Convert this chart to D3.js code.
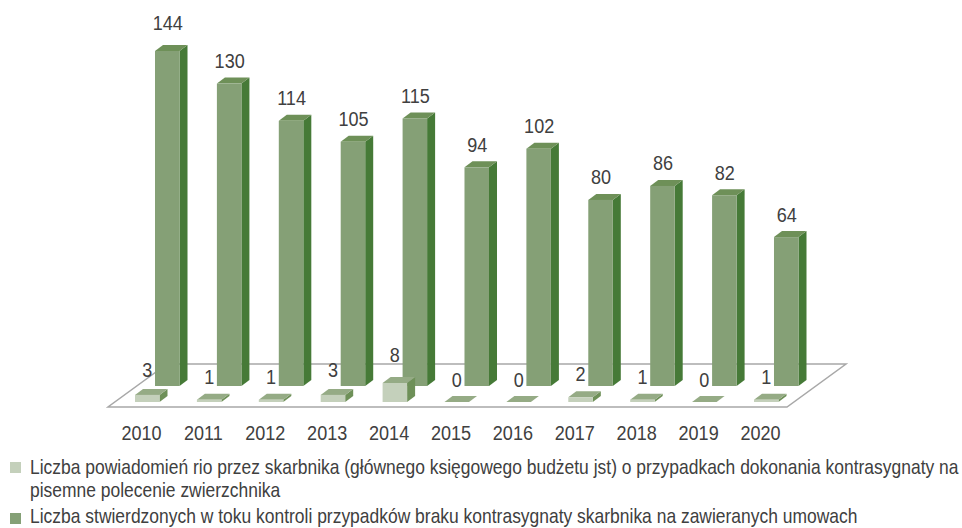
<!DOCTYPE html>
<html>
<head>
<meta charset="utf-8">
<script src="https://d3js.org/d3.v7.min.js"></script>
<style>
  html, body { margin: 0; padding: 0; background: #fff; }
  text { font-family: "Liberation Sans", sans-serif; fill: #404040; }
</style>
</head>
<body>
<div id="chart"></div>
<script>
const years = ["2010","2011","2012","2013","2014","2015","2016","2017","2018","2019","2020"];
const powiadomienia = [3,1,1,3,8,0,0,2,1,0,1];
const stwierdzone = [144,130,114,105,115,94,102,80,86,82,64];
const legendLines = [
  "Liczba powiadomień rio przez skarbnika (głównego księgowego budżetu jst) o przypadkach dokonania kontrasygnaty na",
  "pisemne polecenie zwierzchnika",
  "Liczba stwierdzonych w toku kontroli przypadków braku kontrasygnaty skarbnika na zawieranych umowach"
];

let width = 962,
    height = 528;

// offsets of the fake 3d
let depthX = 8,
    depthY = 6,
    backShift = 20;

// no arial narrow here, so squeeze the regular face
let labelSize = 21,
    labelSqueeze = 0.86,
    legendSize = 20,
    legendSqueeze = 0.873;

let svg = d3.select("#chart").append("svg")
    .attr("width", width)
    .attr("height", height);

let x = d3.scaleBand()
    .domain(years)
    .range([135, 778.5])
    .paddingInner(0.604)
    .paddingOuter(0);

let yBack = d3.scaleLinear().domain([0, 144]).range([386, 51]);
let yFront = d3.scaleLinear().domain([0, 8]).range([402, 383]);
let yFrontLabel = d3.scaleLinear().domain([0, 8]).range([387, 361.5]);

// floor
svg.append("path")
    .attr("d", d3.line()([[108,407],[787,407],[846,364],[167,364]]) + "Z")
    .attr("fill", "#fff")
    .attr("stroke", "#a8a8a8")
    .attr("stroke-width", 1.5);

function bars(cls, values, left, y, colors) {
  let g = svg.selectAll("g." + cls)
    .data(values)
    .join("g")
      .attr("class", cls);
  let w = x.bandwidth();

  // side
  g.append("path")
    .attr("fill", colors.side)
    .attr("d", (d, i) => {
      let x1 = left(years[i]) + w, y0 = y(0), y1 = y(d);
      return d3.line()([[x1,y1],[x1+depthX,y1-depthY],[x1+depthX,y0-depthY],[x1,y0]]) + "Z";
    });
  // top
  g.append("path")
    .attr("fill", colors.top)
    .attr("d", (d, i) => {
      let x0 = left(years[i]), y1 = y(d);
      return d3.line()([[x0,y1],[x0+w,y1],[x0+w+depthX,y1-depthY],[x0+depthX,y1-depthY]]) + "Z";
    });
  // front
  g.append("rect")
    .attr("fill", colors.front)
    .attr("x", (d, i) => left(years[i]))
    .attr("y", d => y(d))
    .attr("width", w)
    .attr("height", d => y(0) - y(d));
}

bars("back", stwierdzone, d => x(d) + backShift, yBack,
     {front: "#85a076", top: "#6e9058", side: "#467a37"});
bars("front", powiadomienia, d => x(d), yFront,
     {front: "#c4d0bb", top: "#95ab85", side: "#6e9058"});

function squeezed(px, py, k) {
  return "translate(" + px + "," + py + ") scale(" + k + ",1)";
}

// value labels, the tallest one sits a bit higher in the original
let tallest = d3.max(stwierdzone);
svg.selectAll("text.back-label")
  .data(stwierdzone)
  .join("text")
    .attr("class", "back-label")
    .attr("text-anchor", "middle")
    .attr("font-size", labelSize)
    .attr("transform", (d, i) => squeezed(
        x(years[i]) + backShift + x.bandwidth() / 2 + 0.5,
        yBack(d) - depthY - 9.5 - (d === tallest ? 6 : 0),
        labelSqueeze))
    .text(d => d);

svg.selectAll("text.front-label")
  .data(powiadomienia)
  .join("text")
    .attr("class", "front-label")
    .attr("text-anchor", "middle")
    .attr("font-size", labelSize)
    .attr("transform", (d, i) => squeezed(
        x(years[i]) + x.bandwidth() / 2,
        yFrontLabel(d),
        labelSqueeze))
    .text(d => d);

// years
let axis = d3.axisBottom(d3.scalePoint().domain(years).range([141, 760])).tickSize(0).tickPadding(0);
svg.append("g")
    .attr("transform", "translate(0,425)")
    .call(axis)
    .call(g => g.select(".domain").remove())
    .call(g => g.selectAll("text")
        .attr("font-size", labelSize)
        .attr("fill", "#404040")
        .attr("transform", "scale(" + labelSqueeze + ",1)"));

// legend
svg.selectAll("rect.swatch")
  .data(["#c4d0bb", "#85a076"])
  .join("rect")
    .attr("class", "swatch")
    .attr("x", 10)
    .attr("y", (d, i) => [462, 513][i])
    .attr("width", 11)
    .attr("height", 11)
    .attr("fill", d => d);

svg.selectAll("text.legend")
  .data(legendLines)
  .join("text")
    .attr("class", "legend")
    .attr("font-size", legendSize)
    .attr("transform", (d, i) => squeezed(30, [474, 497, 523][i], legendSqueeze))
    .text(d => d);
</script>
</body>
</html>
